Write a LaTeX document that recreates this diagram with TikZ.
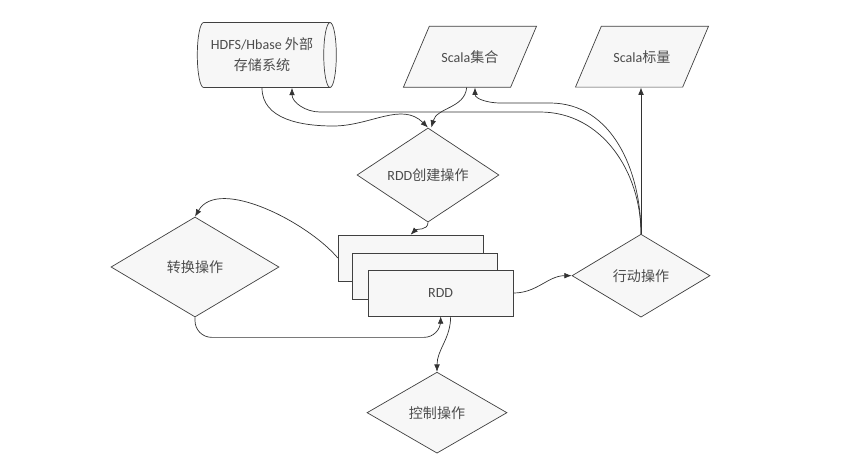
\documentclass[tikz,border=0pt]{standalone}
\usepackage{fontspec}
\setmainfont{Carlito}
\newfontfamily\cjk{Noto Sans CJK SC}
\usepackage{tikz}
\usetikzlibrary{arrows.meta,shapes.geometric}
\newcommand{\zh}[1]{{\cjk #1}}

\begin{document}
\begin{tikzpicture}[
  font=\fontsize{12}{18}\selectfont,text=black!70,line width=0.6pt,
  store/.style={draw=black!75,fill=gray!6,cylinder,shape border rotate=0,
    aspect=0.3,minimum width=1.95cm,minimum height=4.17cm,align=center},
  data/.style={draw=black!75,fill=gray!6,trapezium,trapezium left angle=67,
    trapezium right angle=113,text width=1.9cm,align=center,
    inner xsep=0.27cm,inner ysep=0.72cm},
  op/.style={draw=black!75,fill=gray!6,diamond,inner sep=0pt},
  rdd/.style={draw=black!75,fill=gray!6,minimum width=4.35cm,
    minimum height=1.38cm},
  arr/.style={-{Latex[length=2.2mm,width=1.7mm]},draw=black!80}
]
\fill[white] (0,0) rectangle (25.59,-14.19);
\useasboundingbox (0,0) rectangle (25.59,-14.19);
% sources and results
\node[store] (hdfs) at (7.86,-1.65) {HDFS/Hbase \zh{外部}\\\zh{存储系统}};
\node[data] (coll) at (14.1,-1.70) {Scala\zh{集合}};
\node[data] (scalar) at (19.26,-1.70) {Scala\zh{标量}};
% operations
\node[op,minimum width=4.26cm,minimum height=2.52cm] (create) at (12.84,-5.25) {RDD\zh{创建操作}};
\node[op,minimum width=5.04cm,minimum height=3.0cm] (trans) at (5.85,-8.01) {\zh{转换操作}};
\node[op,minimum width=4.14cm,minimum height=2.49cm] (action) at (19.23,-8.27) {\zh{行动操作}};
\node[op,minimum width=4.2cm,minimum height=2.43cm] (ctrl) at (13.11,-12.38) {\zh{控制操作}};
% RDD stack
\node[rdd] (r1) at (12.32,-7.74) {};
\node[rdd] (r2) at (12.75,-8.30) {};
\node[rdd] (r3) at (13.22,-8.79) {RDD};
% connectors
\draw[arr] (hdfs.south) to[out=-90,in=180] (10.0,-3.78) to[out=0,in=135] (create.north);
\draw[arr] ([xshift=-0.1cm]coll.south) to[out=-95,in=75] ([xshift=0.1cm]create.north);
\draw[arr] (action.north) to[out=90,in=0] (16.2,-3.36) -- (9.6,-3.36)
  to[out=180,in=-90] ([xshift=0.9cm]hdfs.south);
\draw[arr] (action.north) to[out=90,in=0] (16.5,-3.09) -- (15.0,-3.09)
  to[out=180,in=-90] ([xshift=0.15cm]coll.south);
\draw[arr] (action.north) -- (action.north |- scalar.south);
\draw[arr] (create.south) to[out=-90,in=45] (r1.north);
\draw[arr] (r1.west) to[out=130,in=60,looseness=0.8] (trans.north);
\draw[arr,rounded corners=0.5cm] (trans.south) -- ++(0,-0.6) -| (r3.south);
\draw[arr] ([xshift=0.3cm]r3.south) to[out=-90,in=90] (ctrl.north);
\draw[arr] (r3.east) to[out=0,in=180] (action.west);
\end{tikzpicture}
\end{document}
